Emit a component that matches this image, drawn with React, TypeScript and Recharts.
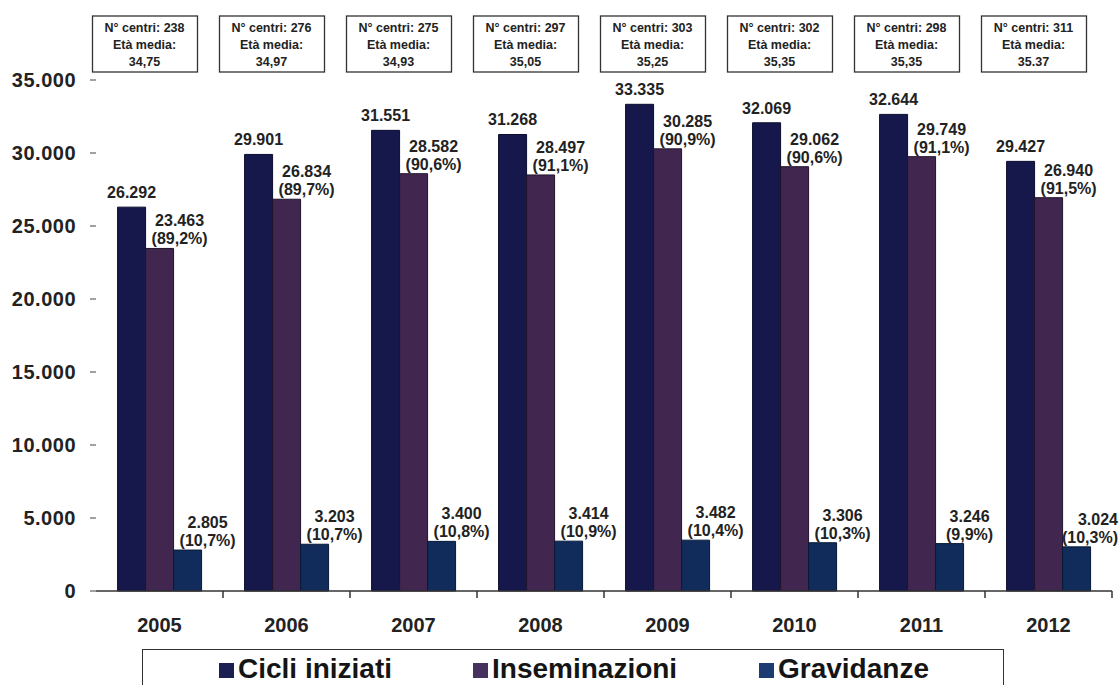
import { BarChart, Bar, XAxis, YAxis, LabelList } from "recharts";

const years = ["2005", "2006", "2007", "2008", "2009", "2010", "2011", "2012"];
const cicli = [26292, 29901, 31551, 31268, 33335, 32069, 32644, 29427];
const inseminazioni = [23463, 26834, 28582, 28497, 30285, 29062, 29749, 26940];
const insemPct = ["89,2%", "89,7%", "90,6%", "91,1%", "90,9%", "90,6%", "91,1%", "91,5%"];
const gravidanze = [2805, 3203, 3400, 3414, 3482, 3306, 3246, 3024];
const gravPct = ["10,7%", "10,7%", "10,8%", "10,9%", "10,4%", "10,3%", "9,9%", "10,3%"];
const centri = [238, 276, 275, 297, 303, 302, 298, 311];
const etaMedia = ["34,75", "34,97", "34,93", "35,05", "35,25", "35,35", "35,35", "35.37"];
const yTicks = [0, 5000, 10000, 15000, 20000, 25000, 30000, 35000];

const seriesNames = ["Cicli iniziati", "Inseminazioni", "Gravidanze"];
const barColors = ["#16184b", "#41274f", "#112c5a"];
const markerColors = ["#1b1f52", "#45335e", "#1d3d72"];

const W = 1119;
const H = 685;
const Y_AXIS_W = 96;
const RIGHT = 7;
const BAND = (W - Y_AXIS_W - RIGHT) / years.length;
const FONT = "'Liberation Sans', Arial, sans-serif";

// italian thousands separator
const fmt = (v: number) => String(v).replace(/\B(?=(\d{3})+(?!\d))/g, ".");

const data = years.map((year, i) => ({
  year,
  cicli: cicli[i],
  insem: inseminazioni[i],
  grav: gravidanze[i],
  insemLabel: `${fmt(inseminazioni[i])}|(${insemPct[i]})`,
  gravLabel: `${fmt(gravidanze[i])}|(${gravPct[i]})`,
}));

function TwoLineLabel(props: any) {
  const { x, y, width, value } = props;
  const [a, b] = String(value).split("|");
  let cx = x + width / 2 + 20;
  let anchor = "middle";
  // keep the last label inside the picture
  if (cx + 31 > W) {
    cx = W - 1;
    anchor = "end";
  }
  return (
    <text
      textAnchor={anchor}
      fontFamily={FONT}
      fontSize={16}
      fontWeight="bold"
      fill="#222"
    >
      <tspan x={cx} y={y - 22}>
        {a}
      </tspan>
      <tspan x={cx} y={y - 4}>
        {b}
      </tspan>
    </text>
  );
}

function InfoBox(props: any) {
  const { x, payload } = props;
  const i = years.indexOf(payload.value);
  const cx = x - 15;
  return (
    <g fontFamily={FONT} fontSize={12.5} fontWeight="bold" fill="#222">
      <rect x={cx - 52} y={16} width={105} height={56} fill="#fff" stroke="#333" strokeWidth={1.3} />
      <text x={cx} y={32} textAnchor="middle">
        N° centri: {centri[i]}
      </text>
      <text x={cx} y={49} textAnchor="middle">
        Età media:
      </text>
      <text x={cx} y={66} textAnchor="middle">
        {etaMedia[i]}
      </text>
    </g>
  );
}

function YearTick(props: any) {
  const { x, y, payload } = props;
  return (
    <g>
      <text
        x={x}
        y={y + 41}
        textAnchor="middle"
        fontFamily={FONT}
        fontSize={20}
        fontWeight="bold"
        fill="#222"
      >
        {payload.value}
      </text>
      <line x1={x + BAND / 2} x2={x + BAND / 2} y1={y} y2={y + 7} stroke="#333" strokeWidth={1.5} />
    </g>
  );
}

export default function App() {
  return (
    <div style={{ position: "absolute", left: 0, top: 0, width: W, height: H, background: "#fff" }}>
      <BarChart
        width={W}
        height={H}
        data={data}
        margin={{ top: 0, right: RIGHT, left: 0, bottom: 0 }}
        barGap={0}
        barCategoryGap="17%"
      >
        <XAxis
          xAxisId="top"
          orientation="top"
          dataKey="year"
          height={80}
          axisLine={false}
          tickLine={false}
          tick={<InfoBox />}
          interval={0}
        />
        <XAxis
          xAxisId="bottom"
          dataKey="year"
          height={94}
          axisLine={{ stroke: "#333", strokeWidth: 1.5 }}
          tickLine={false}
          tickSize={0}
          tickMargin={0}
          tick={<YearTick />}
          interval={0}
        />
        <YAxis
          width={Y_AXIS_W}
          domain={[0, 35000]}
          ticks={yTicks}
          axisLine={false}
          tickSize={6}
          tickMargin={14}
          tickLine={{ stroke: "#444" }}
          tickFormatter={fmt}
          tick={{ fontFamily: FONT, fontSize: 20, fontWeight: "bold", fill: "#222", letterSpacing: 0.5 }}
          interval={0}
        />
        <Bar
          xAxisId="bottom"
          dataKey="cicli"
          name={seriesNames[0]}
          fill={barColors[0]}
          stroke="#0b0d2e"
          strokeWidth={1}
          isAnimationActive={false}
        >
          <LabelList
            dataKey="cicli"
            position="top"
            offset={9}
            formatter={(v: any) => fmt(Number(v))}
            style={{ fontFamily: FONT, fontSize: 16, fontWeight: "bold", fill: "#222" }}
          />
        </Bar>
        <Bar
          xAxisId="bottom"
          dataKey="insem"
          name={seriesNames[1]}
          fill={barColors[1]}
          stroke="#22132c"
          strokeWidth={1}
          isAnimationActive={false}
        >
          <LabelList dataKey="insemLabel" content={<TwoLineLabel />} />
        </Bar>
        <Bar
          xAxisId="bottom"
          dataKey="grav"
          name={seriesNames[2]}
          fill={barColors[2]}
          stroke="#081a38"
          strokeWidth={1}
          isAnimationActive={false}
        >
          <LabelList dataKey="gravLabel" content={<TwoLineLabel />} />
        </Bar>
      </BarChart>
      <div
        style={{
          position: "absolute",
          left: 142,
          top: 649,
          width: 860,
          height: 50,
          border: "1.5px solid #333",
          borderBottom: "none",
          fontFamily: FONT,
          fontWeight: "bold",
          fontSize: 28,
          lineHeight: "32px",
          color: "#151515",
        }}
      >
        {seriesNames.map((name, i) => (
          <div
            key={name}
            style={{ position: "absolute", left: [76, 330, 616][i], top: 3, display: "flex", alignItems: "center" }}
          >
            <span
              style={{ display: "inline-block", width: 15, height: 15, background: markerColors[i], marginRight: 4, marginTop: 3 }}
            />
            <span>{name}</span>
          </div>
        ))}
      </div>
    </div>
  );
}
